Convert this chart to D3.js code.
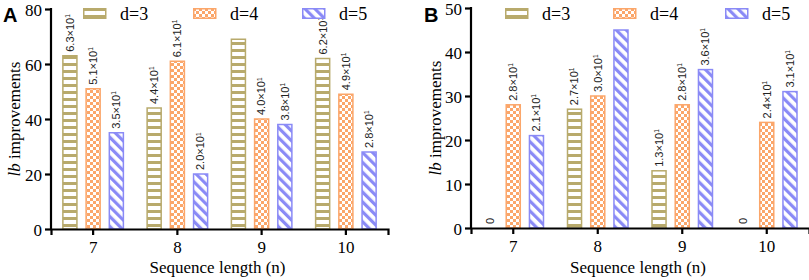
<!DOCTYPE html>
<html lang="en">
<head>
<meta charset="utf-8">
<script src="https://d3js.org/d3.v7.min.js"></script>
<style>
  body { margin: 0; background: #fff; }
  svg { display: block; }
</style>
</head>
<body>
<script>
    // Data
    const seqLen = ["7", "8", "9", "10"];
    const series = ["d=3", "d=4", "d=5"];
    // panel A values
    const valuesA_d3 = [63, 44, 69, 62];
    const valuesA_d4 = [51, 61, 40, 49];
    const valuesA_d5 = [35, 20, 38, 28];
    const labelsA_d3 = ["6.3", "4.4", null, "6.2"];
    const labelsA_d4 = ["5.1", "6.1", "4.0", "4.9"];
    const labelsA_d5 = ["3.5", "2.0", "3.8", "2.8"];
    const ticksA = [0, 20, 40, 60, 80];
    // panel B values
    const valuesB_d3 = [0, 27, 13, 0];
    const valuesB_d4 = [28, 30, 28, 24];
    const valuesB_d5 = [21, 45, 36, 31];
    const labelsB_d3 = ["0", "2.7", "1.3", "0"];
    const labelsB_d4 = ["2.8", "3.0", "2.8", "2.4"];
    const labelsB_d5 = ["2.1", null, "3.6", "3.1"];
    const ticksB = [0, 10, 20, 30, 40, 50];

    const colors = { "d=3": "#b8aa6c", "d=4": "#fba66a", "d=5": "#8a8af6" };
    const patId = { "d=3": "pat-h", "d=4": "pat-c", "d=5": "pat-d" };
    const serif = "'Liberation Serif'";
    const sans = "'Liberation Sans'";

    const svg = d3.select("body").append("svg")
      .attr("width", 809).attr("height", 280);

    // Patterns
    const defs = svg.append("defs");
    const ph = defs.append("pattern").attr("id", "pat-h")
      .attr("patternUnits", "userSpaceOnUse").attr("width", 8).attr("height", 7);
    ph.append("rect").attr("width", 8).attr("height", 7).attr("fill", "#fff");
    ph.append("rect").attr("y", 0).attr("width", 8).attr("height", 3).attr("fill", colors["d=3"]);

    const pc = defs.append("pattern").attr("id", "pat-c")
      .attr("patternUnits", "userSpaceOnUse").attr("width", 6).attr("height", 6);
    pc.append("rect").attr("width", 6).attr("height", 6).attr("fill", "#fff");
    pc.append("rect").attr("width", 3).attr("height", 3).attr("fill", colors["d=4"]);
    pc.append("rect").attr("x", 3).attr("y", 3).attr("width", 3).attr("height", 3).attr("fill", colors["d=4"]);

    const pd = defs.append("pattern").attr("id", "pat-d")
      .attr("patternUnits", "userSpaceOnUse").attr("width", 7).attr("height", 7)
      .attr("patternTransform", "rotate(-45)");
    pd.append("rect").attr("width", 7).attr("height", 7).attr("fill", "#fff");
    pd.append("rect").attr("width", 3.2).attr("height", 7).attr("fill", colors["d=5"]);

    function drawPanel(opt) {
      const g = svg.append("g");
      const x = d3.scaleBand().domain(seqLen).range([opt.x0, opt.x1]);
      const inner = d3.scaleBand().domain(series).range([-31, 31]).paddingInner(0.33);
      const y = d3.scaleLinear().domain([0, opt.ymax]).range([opt.yBottom, opt.yTop]);

      const rows = [];
      series.forEach((s, si) => {
        seqLen.forEach((c, ci) => {
          rows.push({ s: s, c: c, v: opt.values[si][ci], lab: opt.labels[si][ci] });
        });
      });

      // bars
      g.selectAll("rect.bar").data(rows.filter(d => d.v > 0)).enter().append("rect")
        .attr("class", "bar")
        .attr("x", d => x(d.c) + x.bandwidth() / 2 + inner(d.s) + 0.75)
        .attr("width", inner.bandwidth() - 1.5)
        .attr("y", d => y(d.v))
        .attr("height", d => y(0) - y(d.v))
        .attr("fill", d => "url(#" + patId[d.s] + ")")
        .attr("stroke", d => colors[d.s])
        .attr("stroke-width", 1.5);

      // value labels
      const lab = g.selectAll("text.val").data(rows.filter(d => d.lab !== null)).enter().append("text")
        .attr("class", "val")
        .attr("transform", d => {
          const cx = x(d.c) + x.bandwidth() / 2 + inner(d.s) + inner.bandwidth() / 2;
          return "translate(" + cx + "," + (y(d.v) - 4) + ") rotate(-90)";
        })
        .attr("dy", "0.35em")
        .style("font-family", sans)
        .style("font-size", "11px")
        .attr("fill", "#222");
      lab.each(function (d) {
        const t = d3.select(this);
        if (d.lab === "0") { t.text("0"); return; }
        t.append("tspan").text(d.lab + "×10");
        t.append("tspan").style("font-size", "6.5px").attr("dy", "-0.6em").text("1");
      });

      // axes
      const yAxis = g.append("g")
        .attr("transform", "translate(" + opt.x0 + ",0)")
        .call(d3.axisLeft(y).tickValues(opt.ticks).tickSizeOuter(0).tickSize(6).tickPadding(3));
      const xAxis = g.append("g")
        .attr("transform", "translate(0," + opt.yBottom + ")")
        .call(d3.axisBottom(x).tickSizeOuter(0).tickSize(6).tickPadding(6));
      [yAxis, xAxis].forEach(a => {
        a.select(".domain").attr("stroke", "#000").attr("stroke-width", 2.2);
        a.selectAll(".tick line").attr("stroke", "#000").attr("stroke-width", 2.2);
        a.selectAll(".tick text")
          .style("font-family", serif).style("font-size", "17px").attr("fill", "#000");
      });
      yAxis.select(".domain").attr("d", "M0," + (opt.yBottom + 1) + "V" + (opt.yTop - 1));
      yAxis.selectAll(".tick text").attr("dy", "0.4em");

      // axis titles
      g.append("text")
        .attr("x", (opt.x0 + opt.x1) / 2 - 2).attr("y", 273)
        .attr("text-anchor", "middle")
        .style("font-family", serif).style("font-size", "17px")
        .text("Sequence length (n)");
      const yt = g.append("text")
        .attr("transform", "translate(" + opt.ylabX + "," + ((opt.yTop + opt.yBottom) / 2) + ") rotate(-90)")
        .attr("text-anchor", "middle")
        .style("font-family", serif).style("font-size", "17px");
      yt.append("tspan").style("font-style", "italic").text("lb");
      yt.append("tspan").text(" improvements");

      // panel letter
      g.append("text")
        .attr("x", opt.letterX).attr("y", 22)
        .style("font-family", sans).style("font-weight", "bold").style("font-size", "20px")
        .text(opt.letter);

      // legend
      const leg = g.selectAll("g.leg").data(series).enter().append("g")
        .attr("transform", (d, i) => "translate(" + opt.legX[i] + ",8)");
      leg.append("rect")
        .attr("x", 0.75).attr("y", 0.75).attr("width", 22).attr("height", 9.5)
        .attr("fill", d => "url(#" + patId[d] + ")")
        .attr("stroke", d => colors[d]).attr("stroke-width", 1.5);
      leg.append("text")
        .attr("x", 37).attr("y", 12)
        .style("font-family", serif).style("font-size", "18px")
        .text(d => d);
    }

    drawPanel({
      x0: 51, x1: 388, yTop: 9, yBottom: 229, ymax: 80, ticks: ticksA,
      values: [valuesA_d3, valuesA_d4, valuesA_d5],
      labels: [labelsA_d3, labelsA_d4, labelsA_d5],
      ylabX: 20, letter: "A", letterX: 3, legX: [83, 193, 302]
    });
    drawPanel({
      x0: 471, x1: 809, yTop: 8, yBottom: 228, ymax: 50, ticks: ticksB,
      values: [valuesB_d3, valuesB_d4, valuesB_d5],
      labels: [labelsB_d3, labelsB_d4, labelsB_d5],
      ylabX: 441, letter: "B", letterX: 424, legX: [505, 613, 725]
    });
</script>
</body>
</html>
